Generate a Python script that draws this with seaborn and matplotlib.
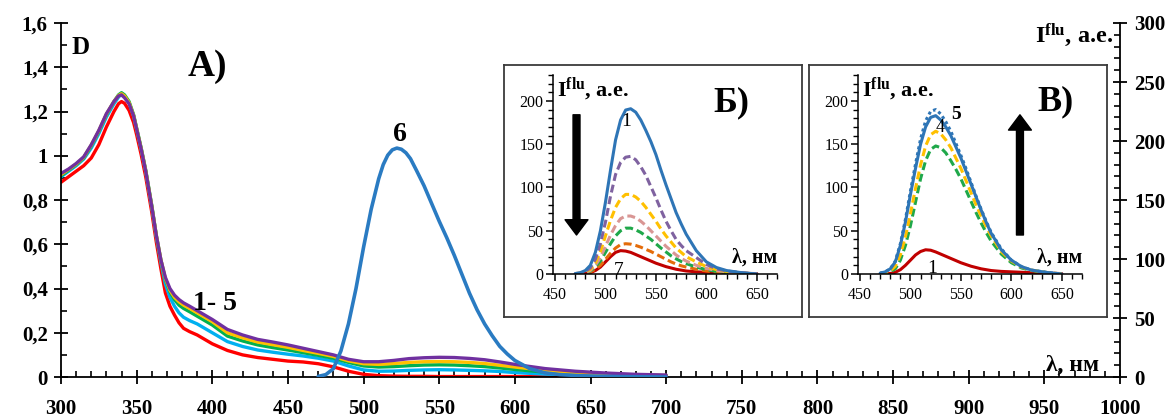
import numpy as np
import pandas as pd
import matplotlib
matplotlib.use("Agg")
import matplotlib.pyplot as plt
import seaborn as sns
from matplotlib.ticker import MultipleLocator

# ---------------- data ----------------
# absorption spectra (curves 1-5), left axis
wl_abs = [300, 305, 310, 315, 320, 325, 330, 335, 338, 340, 342, 345, 348, 350, 353, 356, 360, 363,
          366, 369, 372, 375, 378, 381, 385, 390, 395, 400, 410, 420, 430, 440, 450, 460, 470, 480,
          490, 500, 510, 520, 530, 540, 550, 560, 570, 580, 590, 600, 620, 640, 660, 680, 700]
abs_1 = [0.88, 0.905, 0.93, 0.955, 0.99, 1.05, 1.13, 1.20, 1.235, 1.245, 1.237, 1.205, 1.15, 1.095,
         1.005, 0.905, 0.745, 0.61, 0.49, 0.38, 0.32, 0.28, 0.245, 0.22, 0.205, 0.19, 0.17, 0.15,
         0.12, 0.10, 0.088, 0.08, 0.072, 0.068, 0.06, 0.046, 0.026, 0.012, 0.006, 0.004, 0.003,
         0.003, 0.002, 0.002, 0.002, 0.002, 0.002, 0.002, 0.002, 0.002, 0.002, 0.002, 0.002]
abs_2 = [0.905, 0.93, 0.955, 0.985, 1.035, 1.10, 1.175, 1.235, 1.265, 1.28, 1.27, 1.24, 1.18, 1.12,
         1.03, 0.93, 0.77, 0.635, 0.52, 0.42, 0.36, 0.32, 0.29, 0.27, 0.255, 0.24, 0.22, 0.20,
         0.16, 0.138, 0.122, 0.112, 0.103, 0.095, 0.085, 0.072, 0.05, 0.032, 0.026, 0.027, 0.03,
         0.032, 0.033, 0.032, 0.03, 0.028, 0.025, 0.02, 0.013, 0.009, 0.006, 0.005, 0.004]
abs_3 = [0.91, 0.935, 0.96, 0.99, 1.045, 1.11, 1.185, 1.245, 1.275, 1.285, 1.275, 1.245, 1.185, 1.125,
         1.035, 0.935, 0.775, 0.64, 0.53, 0.44, 0.385, 0.35, 0.325, 0.31, 0.295, 0.275, 0.255, 0.235,
         0.185, 0.163, 0.145, 0.133, 0.122, 0.11, 0.098, 0.085, 0.066, 0.05, 0.045, 0.047, 0.051,
         0.054, 0.055, 0.054, 0.051, 0.047, 0.041, 0.034, 0.022, 0.015, 0.01, 0.007, 0.006]
abs_4 = [0.915, 0.938, 0.962, 0.993, 1.048, 1.113, 1.188, 1.245, 1.272, 1.28, 1.27, 1.24, 1.182, 1.122,
         1.032, 0.932, 0.772, 0.64, 0.53, 0.445, 0.392, 0.36, 0.34, 0.325, 0.31, 0.29, 0.27, 0.25,
         0.20, 0.177, 0.158, 0.146, 0.134, 0.12, 0.107, 0.093, 0.073, 0.06, 0.057, 0.061, 0.066,
         0.069, 0.07, 0.069, 0.066, 0.061, 0.053, 0.045, 0.03, 0.02, 0.013, 0.009, 0.007]
abs_5 = [0.92, 0.94, 0.965, 0.995, 1.05, 1.115, 1.19, 1.245, 1.27, 1.275, 1.262, 1.235, 1.18, 1.12,
         1.03, 0.93, 0.77, 0.64, 0.53, 0.45, 0.40, 0.37, 0.35, 0.335, 0.32, 0.30, 0.28, 0.26,
         0.215, 0.19, 0.17, 0.158, 0.145, 0.13, 0.115, 0.10, 0.08, 0.069, 0.069, 0.075, 0.083,
         0.087, 0.089, 0.088, 0.084, 0.078, 0.068, 0.057, 0.038, 0.026, 0.018, 0.012, 0.009]

# curve 6 (fluorescence, right axis)
wl_fl6 = [470, 475, 480, 485, 490, 495, 500, 505, 510, 513, 516, 519, 522, 525, 528, 531, 535, 540,
          545, 550, 555, 560, 565, 570, 575, 580, 585, 590, 595, 600, 610, 620, 630, 645, 670, 700]
fl_6 = [0.5, 2, 7, 22, 45, 75, 110, 142, 168, 180, 188, 192.5, 194, 193, 190, 185, 175, 162,
        147, 132, 118, 103, 87, 71, 57, 45, 35, 26, 19.5, 14, 7, 3.5, 2, 1, 0.3, 0]

# inset wavelength grid
wl_ins = [470, 475, 480, 485, 490, 495, 500, 505, 510, 515, 520, 525, 530, 535, 540, 545, 550,
          555, 560, 565, 570, 575, 580, 590, 600, 610, 620, 635, 650]
# inset Б (curves 1-7)
b_1 = [0.5, 1.5, 4, 10, 25, 50, 83, 120, 155, 178, 189.5, 191, 187, 178, 166, 153, 138,
       120, 103, 87, 71, 58, 46, 27, 14, 7.5, 4, 1.5, 0]
b_2 = [0.5, 1, 3, 7, 17, 35, 60, 90, 115, 129, 135, 136, 132, 124, 114, 101, 88,
       74, 61, 50, 40, 33, 27, 19, 11, 6, 3.5, 1.5, 0]
b_3 = [0.5, 1, 2.5, 5.5, 13, 26, 44, 62, 77, 87, 92, 92, 89, 84, 77, 69, 61,
       52, 44, 37, 30, 25, 20, 14, 8.5, 5, 3, 1.2, 0]
b_4 = [0.3, 0.8, 2, 4, 10, 19, 32, 45, 56, 64, 67, 67, 65, 61, 56, 50, 44,
       38, 32, 27, 22, 18, 15, 10, 6.5, 4, 2.5, 1, 0]
b_5 = [0.3, 0.6, 1.5, 3.5, 8, 15, 25, 35, 44, 50, 53, 53, 51, 48, 44, 40, 35,
       30, 25.5, 21, 17.5, 14.5, 12, 8, 5, 3, 2, 0.8, 0]
b_6 = [0.2, 0.5, 1.2, 2.5, 5.5, 10, 17, 24, 30, 34, 35, 34.5, 33, 31, 28.5, 26, 23,
       20, 17, 14, 11.5, 9.5, 8, 5.5, 3.5, 2, 1.3, 0.6, 0]
b_7 = [0, 0.2, 0.5, 1.5, 4, 8, 14, 20, 25, 27, 26.5, 25, 22.5, 20, 17.5, 15, 12.5,
       10.5, 8.5, 7, 5.5, 4.5, 3.5, 2.5, 2, 1.5, 1.2, 0.8, 0.5]
# inset В (curves 1-5)
v_1 = [0, 0.2, 0.6, 2, 5, 10, 16, 22, 26, 28, 27.5, 25.5, 23, 20.5, 18, 15.5, 13,
       11, 9, 7.5, 6, 5, 4, 3, 2.5, 2, 1.5, 1, 0.5]
v_2 = [0.5, 1, 2.5, 6, 16, 33, 56, 83, 110, 131, 144, 148, 146, 140, 131, 121, 110,
       97, 84, 71, 59, 48, 38, 23, 13, 7, 4, 1.5, 0]
v_3 = [1, 2.5, 6, 14, 33, 60, 92, 122, 150, 170, 181, 183, 178, 170, 160, 147, 134,
       119, 104, 89, 74, 60, 47, 28, 16, 8.5, 4.5, 1.8, 0]
v_4 = [0.8, 1.5, 3.5, 9, 22, 43, 70, 99, 126, 148, 161, 165, 162, 155, 146, 134, 122,
       108, 94, 80, 67, 55, 44, 26, 15, 8, 4.5, 1.8, 0]
v_5 = [1, 2.5, 6, 15, 35, 63, 96, 127, 156, 177, 188, 190, 185, 176, 165, 151, 137,
       122, 106, 90, 75, 61, 48, 29, 16, 8.5, 4.5, 1.8, 0]

x_ticks = [300, 350, 400, 450, 500, 550, 600, 650, 700, 750, 800, 850, 900, 950, 1000]
y_ticks = [0, 0.2, 0.4, 0.6, 0.8, 1.0, 1.2, 1.4, 1.6]
y_tick_labels = ["0", "0,2", "0,4", "0,6", "0,8", "1", "1,2", "1,4", "1,6"]
r_ticks = [0, 50, 100, 150, 200, 250, 300]
ins_x_ticks = [450, 500, 550, 600, 650]
ins_y_ticks = [0, 50, 100, 150, 200]

# ---------------- style ----------------
sns.set_style("ticks")
plt.rcParams.update({
    "font.family": ["Liberation Serif", "DejaVu Serif"],
    "font.weight": "bold",
    "mathtext.fontset": "custom",
    "mathtext.rm": "Liberation Serif:bold",
    "mathtext.it": "Liberation Serif:bold",
    "mathtext.bf": "Liberation Serif:bold",
    "axes.edgecolor": "black",
    "xtick.color": "black",
    "ytick.color": "black",
    "text.color": "black",
    "lines.solid_capstyle": "round",
    "lines.solid_joinstyle": "round",
    "lines.dash_joinstyle": "round",
})

W, H = 1171, 419
fig = plt.figure(figsize=(W / 100, H / 100), dpi=100)


def box(l, t, r, b):
    return [l / W, 1 - b / H, (r - l) / W, (b - t) / H]


# ---------------- main axes ----------------
ax = fig.add_axes(box(61, 23, 1120, 377))
abs_colors = ["#ff0000", "#00b0f0", "#00b050", "#ffc000", "#7030a0"]
for ys, c in zip([abs_1, abs_2, abs_3, abs_4, abs_5], abs_colors):
    sns.lineplot(x=wl_abs, y=ys, ax=ax, color=c, lw=2.4, legend=False)
ax.set_xlim(300, 1000)
ax.set_ylim(0, 1.6)
ax.set_xticks(x_ticks, [str(v) for v in x_ticks])
ax.xaxis.set_minor_locator(MultipleLocator(10))
ax.set_yticks(y_ticks, y_tick_labels)
ax.yaxis.set_minor_locator(MultipleLocator(0.1))
for s in ["top", "right"]:
    ax.spines[s].set_visible(False)
for s in ["left", "bottom"]:
    ax.spines[s].set_linewidth(1.3)
ax.tick_params(which="major", direction="inout", length=10, width=1.3, labelsize=15)
ax.tick_params(which="minor", direction="in", length=4, width=1.2)
ax.tick_params(axis="x", which="major", pad=10.5)
ax.tick_params(axis="y", which="major", pad=4.5)
ax.set_xlabel("")
ax.set_ylabel("")

ax2 = ax.twinx()
sns.lineplot(x=wl_fl6, y=fl_6, ax=ax2, color="#2a7bc2", lw=2.6, legend=False)
ax2.set_ylim(0, 300)
ax2.set_yticks(r_ticks, [str(v) for v in r_ticks])
ax2.yaxis.set_minor_locator(MultipleLocator(10))
for s in ["top", "left", "bottom"]:
    ax2.spines[s].set_visible(False)
ax2.spines["right"].set_linewidth(1.3)
ax2.tick_params(which="major", direction="inout", length=10, width=1.3, labelsize=15, pad=5.5)
ax2.tick_params(which="minor", direction="in", length=4, width=1.2)
ax2.set_ylabel("")

ax.text(307, 1.49, "D", fontsize=18, fontweight="bold", va="center", ha="left")
ax.text(384, 1.405, "A)", fontsize=27, fontweight="bold", va="center", ha="left")
ax.text(387, 0.334, "1- 5", fontsize=20, fontweight="bold", va="center", ha="left")
ax.text(524, 1.098, "6", fontsize=20, fontweight="bold", va="center", ha="center")
ax.text(951, 0.003, "λ, нм", fontsize=17, fontweight="bold", va="bottom", ha="left")
fig.text(1113 / W, 1 - 35 / H, r"I$^{\mathrm{flu}}$, а.е.", fontsize=17.5,
         fontweight="bold", ha="right", va="center")


# ---------------- insets ----------------
def make_inset(frame_px, ax_px):
    fr = fig.add_axes(box(*frame_px))
    fr.set_xticks([])
    fr.set_yticks([])
    fr.set_facecolor("white")
    for s in fr.spines.values():
        s.set_edgecolor("#3a3a3a")
        s.set_linewidth(1.3)
        s.set_visible(True)
    ia = fig.add_axes(box(*ax_px))
    ia.patch.set_alpha(0)
    return ia


def style_inset(ia, lab):
    ia.set_xlim(448, 670)
    ia.set_ylim(0, 230)
    ia.set_xticks(ins_x_ticks, [str(v) for v in ins_x_ticks], fontweight="normal")
    ia.set_yticks(ins_y_ticks, [str(v) for v in ins_y_ticks], fontweight="normal")
    ia.xaxis.set_minor_locator(MultipleLocator(10))
    ia.yaxis.set_minor_locator(MultipleLocator(10))
    for s in ["top", "right"]:
        ia.spines[s].set_visible(False)
    for s in ["left", "bottom"]:
        ia.spines[s].set_linewidth(1.1)
    ia.tick_params(which="major", direction="out", length=5, width=1.1, labelsize=11.5, pad=2)
    ia.tick_params(axis="x", which="major", pad=4)
    ia.tick_params(which="minor", direction="out", length=3.5, width=1.0)
    ia.set_xlabel("")
    ia.set_ylabel("")
    ia.text(0.018, 0.927, r"I$^{\mathrm{flu}}$, а.е.", transform=ia.transAxes,
            fontsize=16, fontweight="bold", ha="left", va="center")
    ia.text(0.80, 0.08, "λ, нм", transform=ia.transAxes, fontsize=14.5,
            fontweight="bold", ha="left", va="center", clip_on=False)
    ia.text(lab[0], lab[1], lab[2], transform=ia.transAxes, fontsize=26,
            fontweight="bold", ha="left", va="center")


dash = (0, (2.6, 1.3))
lw_i = 2.2

# Б
axB = make_inset((504, 65, 802, 317), (553, 75, 777, 274))
b_styles = [(b_7, "#c00000", "-"), (b_6, "#e46c0a", dash), (b_5, "#1fa84a", dash),
            (b_4, "#d99694", dash), (b_3, "#ffc000", dash), (b_2, "#7f62a0", dash),
            (b_1, "#2e75b6", "-")]
for ys, c, ls in b_styles:
    sns.lineplot(x=wl_ins, y=ys, ax=axB, color=c, lw=lw_i, linestyle=ls, legend=False)
style_inset(axB, (0.714, 0.861, "Б)"))
axB.text(520.4, 176, "1", fontsize=14, fontweight="normal", ha="center", va="center")
axB.text(513, 4, "7", fontsize=14, fontweight="normal", ha="center", va="center")
axB.annotate("", xy=(0.105, 0.196), xytext=(0.105, 0.80), xycoords="axes fraction",
             arrowprops=dict(facecolor="black", edgecolor="black", width=5,
                             headwidth=16.5, headlength=11, shrink=0))

# В
axV = make_inset((809, 65, 1107, 317), (858, 75, 1082, 274))
v_styles = [(v_1, "#c00000", "-"), (v_2, "#1fa84a", dash), (v_4, "#ffc000", dash),
            (v_3, "#2e75b6", "-"), (v_5, "#2e75b6", (0, (1, 1)))]
for ys, c, ls in v_styles:
    sns.lineplot(x=wl_ins, y=ys, ax=axV, color=c, lw=lw_i, linestyle=ls, legend=False)
style_inset(axV, (0.80, 0.864, "В)"))
axV.text(545, 184, "5", fontsize=14, fontweight="bold", ha="center", va="center")
axV.text(529, 169, "4", fontsize=13, fontweight="normal", ha="center", va="center")
axV.text(521, 6, "1", fontsize=14, fontweight="normal", ha="center", va="center")
axV.annotate("", xy=(0.723, 0.80), xytext=(0.723, 0.196), xycoords="axes fraction",
             arrowprops=dict(facecolor="black", edgecolor="black", width=5,
                             headwidth=16.5, headlength=11, shrink=0))

fig.savefig("out.png", dpi=100)
